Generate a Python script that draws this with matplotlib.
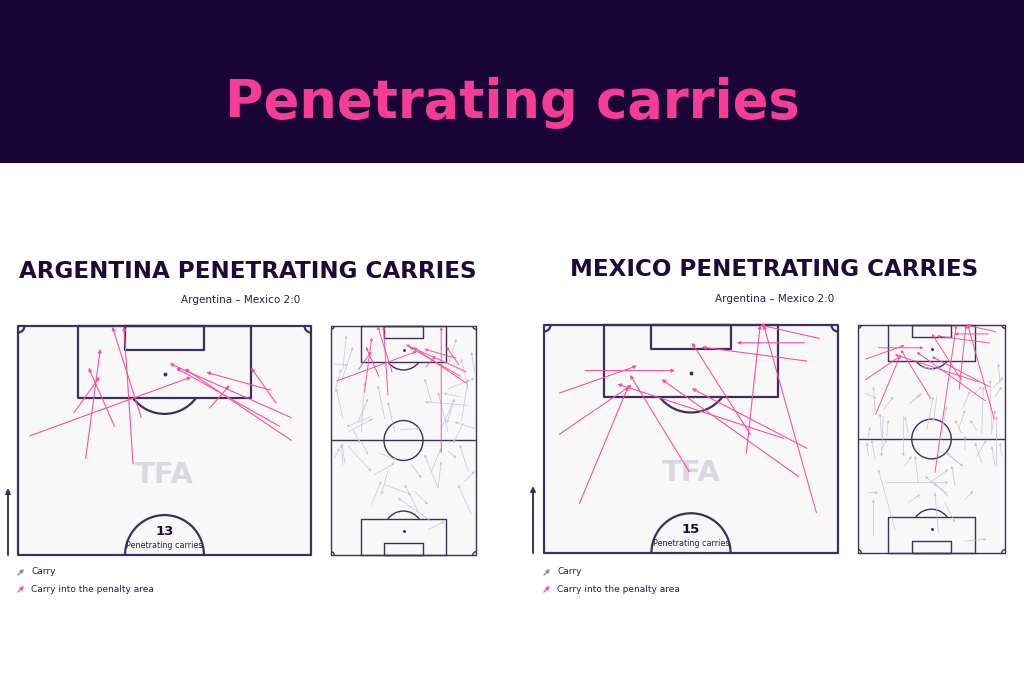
import matplotlib
matplotlib.use("Agg")
import matplotlib.pyplot as plt
from matplotlib.patches import Rectangle, Arc, Circle, FancyArrowPatch

# ---------------- data (pitch metres: x across 0-68, y along 0-105, attacking upward) ----------------
title = "Penetrating carries"
match_label = "Argentina \u2013 Mexico 2:0"
teams = ["ARGENTINA", "MEXICO"]
legend_labels = ["Carry", "Carry into the penalty area"]
count_label = "Penetrating carries"
watermark = "TFA"

arg_pen_x0 = [2.7, 15.7, 22.4, 13.0, 26.7, 28.6, 63.4, 60.7, 63.4, 58.6, 59.9, 44.5, 51.7]
arg_pen_y0 = [79.8, 74.6, 82.0, 85.1, 73.4, 84.0, 84.0, 82.0, 78.8, 90.3, 87.3, 86.2, 46.8]
arg_pen_x1 = [40.2, 19.1, 16.4, 18.9, 24.6, 21.9, 35.2, 36.7, 38.7, 43.7, 54.1, 49.1, 51.7]
arg_pen_y1 = [93.3, 99.7, 95.4, 93.3, 104.8, 104.8, 96.4, 95.4, 95.2, 94.4, 95.4, 91.4, 104.6]

arg_car_x0 = [5.6, 4.8, 1.7, 5.6, 14.2, 25.2, 12.7, 8.0, 29.9, 47.1, 54.9, 64.3, 54.9, 51.7, 61.1,
              54.9, 67.4, 67.4, 64.3, 1.7, 5.6, 8.0, 20.5, 18.9, 25.2, 47.1, 40.8, 37.7, 50.2, 47.1,
              50.2, 54.9, 64.3, 65.8, 62.7, 39.2, 45.5, 1.7, 26.7, 14.2,
              32.4, 18.3, 10.5, 6.6, 23.0, 60.5, 57.4, 62.0]
arg_car_y0 = [85.4, 79.3, 87.7, 62.5, 56.4, 62.5, 61.0, 56.4, 56.4, 70.2, 56.4, 68.6, 76.3, 57.9, 61.0,
              87.0, 83.9, 57.9, 76.3, 74.7, 41.4, 49.8, 36.8, 23.1, 32.2, 15.4, 20.0, 41.4, 30.7, 38.4,
              30.7, 47.5, 38.4, 18.5, 33.8, 29.2, 11.6, 44.5, 38.4, 52.1,
              57.3, 63.4, 57.3, 42.0, 46.6, 72.6, 69.6, 60.4]
arg_car_x1 = [7.2, 10.3, 8.0, 2.5, 15.8, 22.0, 17.4, 19.7, 26.7, 43.9, 50.2, 43.9, 67.4, 58.0, 64.3,
              58.8, 65.8, 58.0, 61.1, 4.8, 4.8, 18.9, 29.9, 23.6, 37.7, 31.4, 34.6, 42.4, 43.9, 51.7,
              51.7, 58.8, 60.4, 59.6, 67.4, 45.5, 53.3, 4.0, 23.6, 17.4,
              41.7, 7.3, 13.6, 5.0, 30.8, 52.7, 54.3, 57.4]
arg_car_y1 = [100.7, 95.4, 87.0, 76.3, 79.3, 77.8, 71.7, 62.5, 70.2, 80.9, 74.7, 70.2, 80.9, 71.7, 80.9,
              99.2, 93.1, 61.0, 90.0, 85.4, 50.6, 38.4, 42.2, 33.8, 27.7, 26.1, 32.2, 35.3, 46.0, 49.1,
              42.9, 44.5, 50.6, 32.2, 38.4, 23.1, 15.4, 49.1, 27.7, 46.0,
              58.1, 58.8, 51.2, 51.2, 43.6, 74.1, 60.4, 51.2]

mex_pen_x0 = [63.7, 60.3, 60.8, 9.5, 3.5, 3.5, 8.2, 33.6, 55.4, 58.9, 60.8, 47.8, 46.8, 63.0, 35.6]
mex_pen_y0 = [101.9, 100.9, 96.7, 94.5, 89.3, 79.8, 63.9, 71.2, 78.9, 70.1, 76.6, 79.7, 75.4, 61.8, 37.0]
mex_pen_x1 = [50.0, 44.6, 36.5, 30.3, 21.5, 20.3, 19.5, 19.9, 17.0, 27.2, 34.2, 34.2, 50.0, 50.8, 45.5]
mex_pen_y1 = [105.0, 100.9, 99.9, 94.5, 95.6, 91.2, 90.9, 93.5, 91.4, 92.5, 90.4, 100.9, 105.0, 105.0, 105.0]

mex_car_x0 = [3.2, 7.9, 4.8, 10.9, 13.3, 11.7, 23.3, 24.1, 29.4, 31.8, 38.7, 48.0, 46.4, 54.9, 57.2,
              61.8, 65.7, 63.4, 52.6, 61.8, 4.8, 7.9, 17.1, 4.8, 7.1, 10.9, 27.9, 23.3, 41.8, 33.3,
              37.2, 48.0, 44.9, 49.5, 49.5, 57.2, 63.4, 49.5, 40.2, 13.3, 21.7, 66.5,
              24.1, 36.4, 48.7, 62.6, 11.7, 21.0, 42.5, 54.9, 64.1, 41.0]
mex_car_y0 = [73.5, 65.8, 53.6, 53.6, 53.6, 65.8, 55.1, 68.9, 85.8, 56.6, 55.1, 55.1, 56.6, 56.6, 55.1,
              56.6, 78.1, 72.0, 72.0, 55.1, 44.7, 43.1, 10.9, 27.8, 7.8, 47.7, 32.4, 23.2, 26.2, 32.4,
              9.3, 40.1, 30.8, 24.7, 47.7, 41.6, 40.1, 5.5, 23.2, 32.4, 40.1, 44.7,
              68.9, 72.0, 67.3, 76.2, 62.9, 62.9, 44.5, 44.5, 39.9, 27.6]
mex_car_x1 = [8.6, 7.1, 5.6, 10.2, 14.0, 16.3, 21.7, 28.7, 35.6, 34.8, 41.0, 44.9, 49.5, 51.8, 58.0,
              61.1, 64.9, 66.5, 57.2, 63.4, 4.0, 6.3, 9.4, 9.4, 7.1, 13.3, 26.4, 28.7, 31.0, 41.8,
              35.6, 41.0, 43.3, 53.3, 49.5, 54.1, 61.8, 59.5, 44.9, 41.8, 24.8, 65.7,
              29.5, 34.9, 51.8, 67.2, 10.9, 21.0, 48.7, 59.5, 64.1, 34.9]
mex_car_y1 = [71.2, 76.6, 58.2, 64.3, 61.2, 72.0, 62.8, 72.8, 84.3, 72.0, 67.4, 61.2, 65.8, 61.2, 76.6,
              79.7, 87.3, 76.6, 76.6, 65.8, 50.8, 52.3, 38.5, 27.8, 24.7, 52.3, 44.7, 27.0, 35.4, 38.5,
              27.8, 46.2, 40.1, 28.5, 53.9, 50.8, 49.3, 6.3, 14.0, 32.4, 44.7, 50.8,
              73.5, 60.1, 74.6, 80.8, 44.5, 44.5, 39.9, 52.2, 62.9, 32.2]

# ---------------- style ----------------
DARK = "#1b0a3a"
HEADER = "#1a0537"
PINK_TITLE = "#f53c96"
PINK = "#f8509f"
GREY = "#c6c2d2"
LINE = "#3d2f5e"
PITCH_BG = "#f8f8f9"
TEXT = "#2b1d4b"

W, H = 1024, 683
fig = plt.figure(figsize=(W / 100, H / 100), dpi=100)
fig.patch.set_facecolor("white")


def fx(px):
    return px / W


def fy(py):
    return 1 - py / H


fig.add_artist(Rectangle((0, fy(163)), 1, 163 / H, transform=fig.transFigure,
                         facecolor=HEADER, edgecolor="none", zorder=0))
fig.text(0.5, fy(103), title, ha="center", va="center", color=PINK_TITLE,
         fontsize=38, fontweight="bold", family="DejaVu Sans")


def draw_pitch(ax, half, lw, spot):
    ymin = 52.5 if half else 0.0
    ax.set_xlim(0, 68)
    ax.set_ylim(ymin, 105)
    ax.set_facecolor(PITCH_BG)
    ax.set_xticks([])
    ax.set_yticks([])
    for s in ax.spines.values():
        s.set_visible(False)
    kw = dict(fill=False, edgecolor=LINE, lw=lw, clip_on=False, zorder=2, joinstyle="round")
    ax.add_patch(Rectangle((0, ymin), 68, 105 - ymin, **kw))
    # top end
    ax.add_patch(Rectangle((34 - 20.16, 105 - 16.5), 40.32, 16.5, **kw))
    ax.add_patch(Rectangle((34 - 9.16, 105 - 5.5), 18.32, 5.5, **kw))
    ax.add_patch(Arc((34, 94), 18.3, 18.3, theta1=216.9, theta2=323.1, edgecolor=LINE, lw=lw, zorder=2))
    ax.plot([34], [94], marker="o", ms=spot, color=LINE, zorder=2)
    for cx, cy, t1 in [(0, 105, 270), (68, 105, 180)]:
        ax.add_patch(Arc((cx, cy), 3, 3, theta1=t1, theta2=t1 + 90, edgecolor=LINE, lw=lw, zorder=2))
    if half:
        ax.add_patch(Arc((34, 52.5), 18.3, 18.3, theta1=0, theta2=180, edgecolor=LINE, lw=lw, zorder=2))
    else:
        ax.plot([0, 68], [52.5, 52.5], color=LINE, lw=lw, zorder=2)
        ax.add_patch(Circle((34, 52.5), 9.15, fill=False, edgecolor=LINE, lw=lw, zorder=2))
        ax.add_patch(Rectangle((34 - 20.16, 0), 40.32, 16.5, **kw))
        ax.add_patch(Rectangle((34 - 9.16, 0), 18.32, 5.5, **kw))
        ax.add_patch(Arc((34, 11), 18.3, 18.3, theta1=36.9, theta2=143.1, edgecolor=LINE, lw=lw, zorder=2))
        ax.plot([34], [11], marker="o", ms=spot, color=LINE, zorder=2)
        for cx, cy, t1 in [(0, 0, 0), (68, 0, 90)]:
            ax.add_patch(Arc((cx, cy), 3, 3, theta1=t1, theta2=t1 + 90, edgecolor=LINE, lw=lw, zorder=2))


def arrows(ax, x0, y0, x1, y1, color, lw, ms, z, alpha=1.0, min_start=None):
    for a, b, c, d in zip(x0, y0, x1, y1):
        if min_start is not None and b < min_start:
            continue
        ax.annotate("", xy=(c, d), xytext=(a, b),
                    arrowprops=dict(arrowstyle="-|>", color=color, lw=lw, alpha=alpha,
                                    mutation_scale=ms, shrinkA=0, shrinkB=0),
                    zorder=z, annotation_clip=False)


panels = [
    dict(team=teams[0], half=(18, 326, 293, 229), full=(331, 326, 145, 229), title_x=248, title_y=271,
         sub_x=241, sub_y=300, arrow_x=8, leg_x=18,
         pen=(arg_pen_x0, arg_pen_y0, arg_pen_x1, arg_pen_y1),
         car=(arg_car_x0, arg_car_y0, arg_car_x1, arg_car_y1)),
    dict(team=teams[1], half=(544, 325, 294, 228), full=(858, 325, 147, 228), title_x=774, title_y=269,
         sub_x=775, sub_y=299, arrow_x=533, leg_x=544,
         pen=(mex_pen_x0, mex_pen_y0, mex_pen_x1, mex_pen_y1),
         car=(mex_car_x0, mex_car_y0, mex_car_x1, mex_car_y1)),
]

for p in panels:
    fig.text(fx(p["title_x"]), fy(p["title_y"]), f"{p['team']} PENETRATING CARRIES", ha="center",
             va="center", color=DARK, fontsize=16.6, fontweight="heavy", family="DejaVu Sans")
    fig.text(fx(p["sub_x"]), fy(p["sub_y"]), match_label, ha="center", va="center",
             color=TEXT, fontsize=7.5)

    hx, hy, hw, hh = p["half"]
    axh = fig.add_axes([fx(hx), fy(hy + hh), hw / W, hh / H])
    draw_pitch(axh, True, 1.6, 1.8)
    axh.text(34, 105 - (475 - 326) / 4.36, watermark, ha="center", va="center", color="#d9d7e1",
             fontsize=21, fontweight="bold", zorder=1)
    arrows(axh, *p["pen"], PINK, 0.8, 5, 4, min_start=52.5)
    axh.text(34, 58.0, str(len(p["pen"][0])), ha="center", va="center", color=DARK,
             fontsize=9.5, fontweight="bold", zorder=3)
    axh.text(34, 54.7, count_label, ha="center", va="center", color=TEXT, fontsize=5.8, zorder=3)

    fxp, fyp, fw, fh = p["full"]
    axf = fig.add_axes([fx(fxp), fy(fyp + fh), fw / W, fh / H])
    draw_pitch(axf, False, 1.0, 1.1)
    arrows(axf, *p["car"], GREY, 0.55, 3.5, 3, alpha=0.9)
    arrows(axf, *p["pen"], PINK, 0.7, 3.5, 4)

    # direction-of-play arrow
    ax_x = fx(p["arrow_x"])
    fig.add_artist(FancyArrowPatch((ax_x, fy(hy + hh)), (ax_x, fy(hy + hh - 67)),
                                   transform=fig.transFigure, arrowstyle="-|>", mutation_scale=7,
                                   color=LINE, lw=1.4, shrinkA=0, shrinkB=0))

    # legend
    lx = p["leg_x"]
    for i, (lab, col) in enumerate(zip(legend_labels, ["#8f8a9e", PINK])):
        yy = 572 + 17 * i
        fig.add_artist(FancyArrowPatch((fx(lx), fy(yy + 3)), (fx(lx + 6), fy(yy - 3)),
                                       transform=fig.transFigure, arrowstyle="-|>", mutation_scale=5,
                                       color=col, lw=1.0, shrinkA=0, shrinkB=0))
        fig.text(fx(lx + 13), fy(yy), lab, ha="left", va="center", color=TEXT, fontsize=6.5)

fig.savefig("out.png", dpi=100, facecolor="white")
